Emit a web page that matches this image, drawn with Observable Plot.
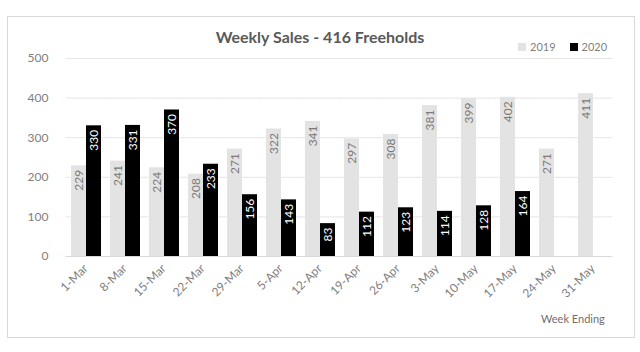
<!DOCTYPE html>
<html>
<head>
<meta charset="utf-8">
<script src="https://cdn.jsdelivr.net/npm/d3@7"></script>
<script src="https://cdn.jsdelivr.net/npm/@observablehq/plot@0.6"></script>
<style>
  html, body { margin: 0; padding: 0; background: #fff; }
  #wrap { position: relative; width: 640px; height: 352px; font-family: Lato, "Open Sans", sans-serif; color: #595959; overflow: hidden; }
  #frame { position: absolute; left: 7px; top: 16px; width: 628px; height: 322px; border: 1px solid #d9d9d9; box-sizing: border-box; }
  #title { position: absolute; left: 0; width: 640px; top: 27px; text-align: center; font-size: 16px; font-weight: bold; color: #595959; }
  #legend { position: absolute; left: 518px; top: 40px; font-size: 11px; color: #7f7f7f; display: flex; gap: 14px; align-items: center; }
  #legend span.sw { display: inline-block; width: 8px; height: 8px; margin-right: 4px; vertical-align: -0px; }
  #xlabel { position: absolute; left: 541px; top: 312px; font-size: 11px; color: #6f6f6f; }
  #chart { position: absolute; left: 0; top: 0; }
</style>
</head>
<body>
<div id="wrap">
  <div id="frame"></div>
  <div id="chart"></div>
  <div id="title"></div>
  <div id="legend"></div>
  <div id="xlabel"></div>
</div>
<script>
const titleText = "Weekly Sales - 416 Freeholds";
const axisTitle = "Week Ending";
const weeks = ["1-Mar","8-Mar","15-Mar","22-Mar","29-Mar","5-Apr","12-Apr","19-Apr","26-Apr","3-May","10-May","17-May","24-May","31-May"];
const series = ["2019", "2020"];
const sales2019 = [229, 241, 224, 208, 271, 322, 341, 297, 308, 381, 399, 402, 271, 411];
const sales2020 = [330, 331, 370, 233, 156, 143, 83, 112, 123, 114, 128, 164, null, null];
const yTicks = [0, 100, 200, 300, 400, 500];
const colors = ["#e3e3e3", "#000000"];
const labelColors = ["#7a7a7a", "#ffffff"];

const rows = [];
weeks.forEach((w, i) => {
  rows.push({week: w, year: series[0], value: sales2019[i]});
  if (sales2020[i] != null) rows.push({week: w, year: series[1], value: sales2020[i]});
});

document.getElementById("title").textContent = titleText;
document.getElementById("xlabel").textContent = axisTitle;
const legend = document.getElementById("legend");
series.forEach((s, i) => {
  const item = document.createElement("div");
  item.innerHTML = `<span class="sw" style="background:${colors[i]}"></span>${s}`;
  legend.appendChild(item);
});

const chart = Plot.plot({
  width: 640,
  height: 352,
  marginLeft: 61,
  marginRight: 23,
  marginTop: 58,
  marginBottom: 96,
  style: {fontFamily: "Lato, 'Open Sans', sans-serif", fontSize: "12px", color: "#808080", background: "transparent"},
  facet: {data: rows, x: "week"},
  fx: {domain: weeks, paddingInner: 0.2, paddingOuter: 0.1, label: null, tickRotate: -45, tickSize: 0, tickPadding: 10},
  x: {domain: series, padding: 0.03, axis: null},
  y: {domain: [0, 500], ticks: yTicks, tickSize: 0, tickPadding: 22, label: null},
  color: {domain: series, range: colors},
  marks: [
    Plot.ruleY(yTicks.slice(1), {stroke: "#e6e6e6", strokeWidth: 1, insetLeft: -4.5, insetRight: -4.5}),
    Plot.ruleY([0], {stroke: "#d9d9d9", strokeWidth: 1, insetLeft: -4.5, insetRight: -4.5}),
    Plot.barY(rows, {x: "year", y: "value", fill: "year"}),
    Plot.text(rows, {
      x: "year", y: "value", text: d => String(d.value),
      rotate: -90, textAnchor: "end", dy: 4,
      fill: d => labelColors[series.indexOf(d.year)],
      fontSize: 12
    })
  ]
});
document.getElementById("chart").appendChild(chart);
</script>
</body>
</html>
